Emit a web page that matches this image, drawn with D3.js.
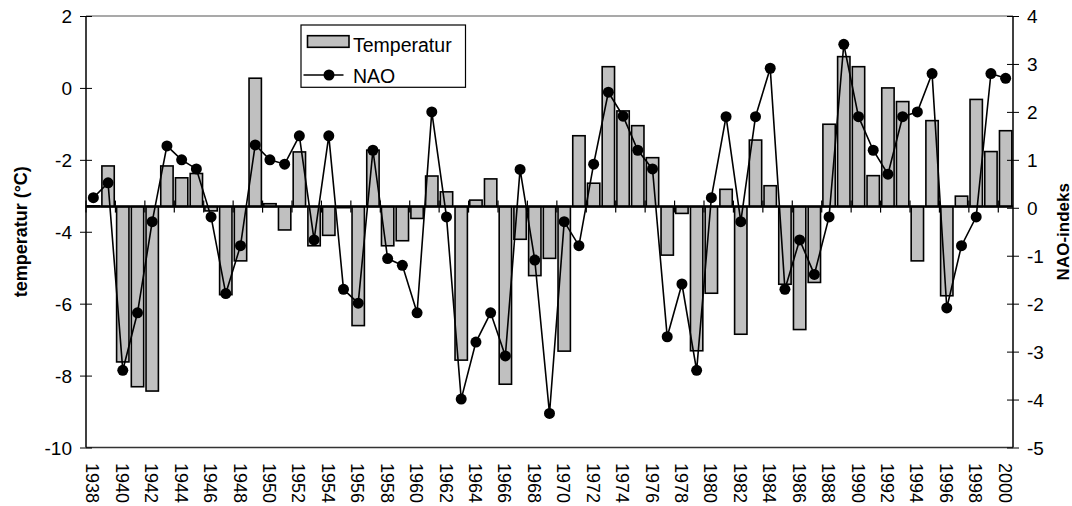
<!DOCTYPE html>
<html><head><meta charset="utf-8">
<script src="https://cdn.jsdelivr.net/npm/d3@7"></script>
<style>body{margin:0;background:#fff;} text{font-family:Arial,"Liberation Sans",sans-serif;}</style>
</head><body><svg id="c" width="1072" height="506"></svg>
<script>
const years = d3.range(1938, 2001);
const temperature = [-3.28,-2.17,-7.62,-8.31,-8.43,-2.17,-2.50,-2.38,-3.42,-5.75,-4.81,0.27,-3.22,-3.95,-1.78,-4.39,-4.10,-3.33,-6.61,
  -1.73,-4.39,-4.25,-3.63,-2.45,-2.89,-7.57,-3.12,-2.53,-8.24,-4.21,-5.22,-4.74,-7.32,-1.33,-2.65,0.59,-0.64,-1.05,-1.94,-4.65,-3.49,-7.31,
  -5.71,-2.82,-6.85,-1.45,-2.72,-5.46,-6.72,-5.41,-1.01,0.87,0.59,-2.44,0.00,-0.38,-4.81,-0.91,-5.78,-3.01,-0.32,-1.77,-1.19];
const nao = [0.21,0.52,-3.39,-2.19,-0.29,1.29,1.00,0.81,-0.19,-1.79,-0.79,1.31,1.00,0.91,1.50,-0.67,1.50,-1.70,-1.99,
  1.20,-1.06,-1.20,-2.19,2.00,-0.19,-3.99,-2.80,-2.19,-3.09,0.80,-1.09,-4.29,-0.29,-0.79,0.91,2.41,1.91,1.20,0.81,-2.69,-1.59,-3.39,
  0.21,1.90,-0.29,1.90,2.91,-1.70,-0.67,-1.39,-0.19,3.41,1.90,1.20,0.70,1.90,2.00,2.80,-2.09,-0.79,-0.19,2.80,2.70];
const tempTicks = [2,0,-2,-4,-6,-8,-10];
const naoTicks = [4,3,2,1,0,-1,-2,-3,-4,-5];
const yearLabels = years.filter(y => (y - 1938) % 2 === 0);
const baseTemp = -3.3;

const L = 86, R = 1013, T = 16, B = 447.5;
const svg = d3.select("#c");
const x = d3.scaleBand().domain(years).range([L, R]).padding(0);
const yT = d3.scaleLinear().domain([-10, 2]).range([B, T]);
const yN = d3.scaleLinear().domain([-5, 4]).range([B, T]);
const bw = x.bandwidth() * 0.84;
const fmt = d => String(d);

// plot border top/bottom
svg.append("line").attr("x1", L).attr("x2", R).attr("y1", T).attr("y2", T).attr("stroke", "#555").attr("stroke-width", 1.2);
svg.append("line").attr("x1", L).attr("x2", R).attr("y1", B).attr("y2", B).attr("stroke", "#333").attr("stroke-width", 1.5);

// bars
svg.append("g").selectAll("rect").data(years).join("rect")
  .attr("x", (d) => x(d) + (x.bandwidth() - bw) / 2)
  .attr("width", bw)
  .attr("y", (d, i) => Math.min(yT(temperature[i]), yT(baseTemp)))
  .attr("height", (d, i) => Math.abs(yT(temperature[i]) - yT(baseTemp)))
  .attr("fill", "#c0c0c0").attr("stroke", "#000").attr("stroke-width", 1.6);

// category axis at baseline
const yb = yT(baseTemp);
svg.append("line").attr("x1", L).attr("x2", R).attr("y1", yb).attr("y2", yb).attr("stroke", "#000").attr("stroke-width", 2.5);
svg.append("g").selectAll("line").data(yearLabels).join("line")
  .attr("x1", d => x(d)).attr("x2", d => x(d)).attr("y1", yb - 6).attr("y2", yb + 6)
  .attr("stroke", "#000").attr("stroke-width", 1.2);

// left axis
const gl = svg.append("g").attr("transform", `translate(${L},0)`)
  .call(d3.axisLeft(yT).tickValues(tempTicks).tickSize(6).tickFormat(fmt));
gl.selectAll(".tick line").attr("x2", -6).attr("x1", 6);
gl.select(".domain").attr("stroke-width", 1.5).attr("d", `M0,${T}V${B}`);
gl.selectAll("text").attr("font-size", 19).attr("x", -14).attr("dy", "0.36em")
  .attr("font-family", "Arial, 'Liberation Sans', sans-serif").attr("fill", "#000");

// right axis
const gr = svg.append("g").attr("transform", `translate(${R},0)`)
  .call(d3.axisRight(yN).tickValues(naoTicks).tickSize(6).tickFormat(fmt));
gr.selectAll(".tick line").attr("x1", -6).attr("x2", 6);
gr.select(".domain").attr("stroke-width", 1.5).attr("d", `M0,${T}V${B}`);
gr.selectAll("text").attr("font-size", 19).attr("x", 14).attr("dy", "0.36em")
  .attr("font-family", "Arial, 'Liberation Sans', sans-serif").attr("fill", "#000");

// year labels
svg.append("g").selectAll("text").data(yearLabels).join("text")
  .attr("transform", d => `translate(${x(d) + x.bandwidth() / 2 - 7},${463})rotate(90)`)
  .attr("font-size", 18).attr("fill", "#000").text(d => d);

// NAO line
const line = d3.line().x((d, i) => x(years[i]) + x.bandwidth() / 2).y(d => yN(d));
svg.append("path").datum(nao).attr("d", line).attr("fill", "none").attr("stroke", "#000").attr("stroke-width", 1.6);
svg.append("g").selectAll("circle").data(nao).join("circle")
  .attr("cx", (d, i) => x(years[i]) + x.bandwidth() / 2).attr("cy", d => yN(d)).attr("r", 5.5).attr("fill", "#000");

// axis titles
svg.append("text").attr("transform", `translate(27,${(T + B) / 2})rotate(-90)`)
  .attr("text-anchor", "middle").attr("font-size", 18).attr("font-weight", "bold").text("temperatur (°C)");
svg.append("text").attr("transform", `translate(1069,${(T + B) / 2})rotate(-90)`)
  .attr("text-anchor", "middle").attr("font-size", 17).attr("font-weight", "bold").text("NAO-indeks");

// legend
const lg = svg.append("g");
lg.append("rect").attr("x", 301).attr("y", 25).attr("width", 164.5).attr("height", 62.3).attr("fill", "#fff").attr("stroke", "#000").attr("stroke-width", 1.2);
lg.append("rect").attr("x", 307.5).attr("y", 35.7).attr("width", 41.5).attr("height", 11.6).attr("fill", "#c0c0c0").attr("stroke", "#000").attr("stroke-width", 1.6);
lg.append("text").attr("x", 353).attr("y", 51.5).attr("font-size", 19.5).text("Temperatur");
lg.append("line").attr("x1", 303.5).attr("x2", 343.5).attr("y1", 75).attr("y2", 75).attr("stroke", "#000").attr("stroke-width", 1.6);
lg.append("circle").attr("cx", 329).attr("cy", 75).attr("r", 5.5).attr("fill", "#000");
lg.append("text").attr("x", 353).attr("y", 82.5).attr("font-size", 19.5).text("NAO");
</script></body></html>
